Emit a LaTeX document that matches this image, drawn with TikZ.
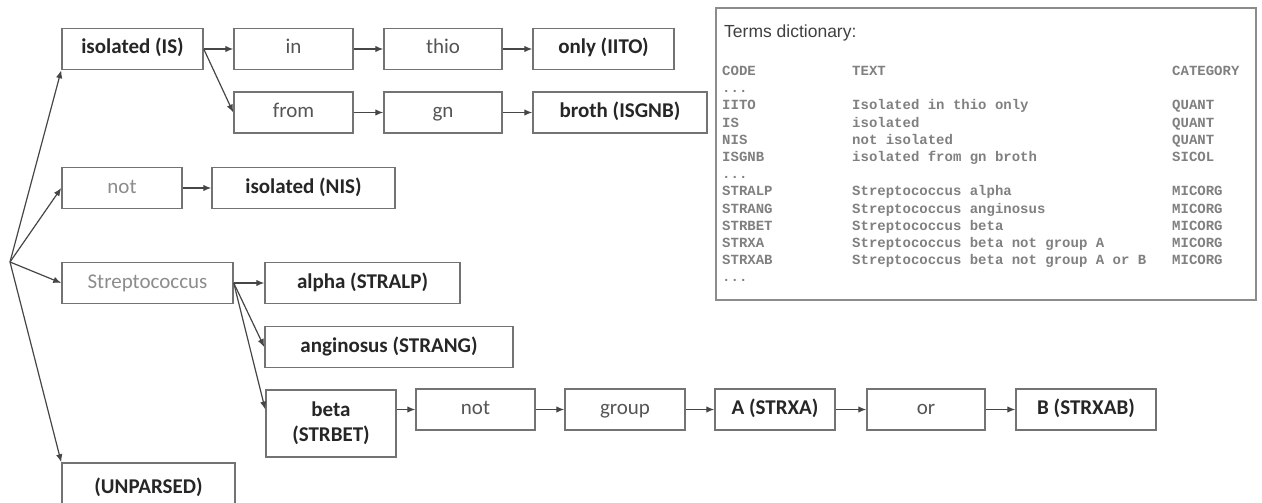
\documentclass[tikz,border=0pt]{standalone}
\usepackage{fontspec}
\setsansfont{Carlito}
\setmonofont{Liberation Mono}
\newfontfamily\titlefont{Liberation Sans}
\usetikzlibrary{positioning,arrows.meta}
\definecolor{boxgray}{RGB}{115,115,115}
\definecolor{linegray}{RGB}{70,70,70}
\definecolor{termgray}{RGB}{85,85,85}
\definecolor{palegray}{RGB}{140,140,140}

\begin{document}
\begin{tikzpicture}[x=1pt,y=-1pt,
	term/.style={
		draw=boxgray, line width=1.5pt, fill=white, text=termgray,
		minimum height=41pt, inner sep=2pt, text height=15pt, text depth=5pt,
		font=\sffamily\fontsize{21}{25}\selectfont
	},
	leaf/.style={term, text=black!85, font=\sffamily\bfseries\fontsize{21}{25}\selectfont},
	link/.style={-{Latex[length=8pt,width=6.5pt]}, draw=linegray, line width=1.2pt},
	dictcol/.style={anchor=north west, inner sep=0pt, align=left, text=black!50,
		font=\ttfamily\bfseries\fontsize{14}{17.2}\selectfont}
	]
	\useasboundingbox (0,0) rectangle (1262,503);
	% điểm gốc bên trái
	\coordinate (root) at (10,262);
	% nhánh isolated
	\node[leaf, minimum width=141pt] (is)    at (132.5,49)  {isolated (IS)};
	\node[term, minimum width=119pt] (in)    at (293.5,49)  {in};
	\node[term, minimum width=118pt] (thio)  at (443,49)    {thio};
	\node[leaf, minimum width=141pt] (iito)  at (603.5,49)  {only (IITO)};
	\node[term, minimum width=119pt] (from)  at (293.5,112.5) {from};
	\node[term, minimum width=118pt] (gn)    at (443,112.5) {gn};
	\node[leaf, minimum width=174pt] (isgnb) at (620,112.5) {broth (ISGNB)};
	% nhánh not
	\node[term, minimum width=120pt, text=palegray] (neg) at (122,188) {not};
	\node[leaf, minimum width=183pt] (nis)   at (303.5,188) {isolated (NIS)};
	% nhánh Streptococcus
	\node[term, minimum width=171pt, text=palegray] (strep) at (147.5,283) {Streptococcus};
	\node[leaf, minimum width=195pt] (stralp) at (362.5,283) {alpha (STRALP)};
	\node[leaf, minimum width=248pt] (strang) at (389,347)   {anginosus (STRANG)};
	\node[leaf, minimum width=130pt, minimum height=67pt, text height=, text depth=, align=center] (strbet) at (331,423.5) {beta\\(STRBET)};
	\node[term, minimum width=119pt] (negb)   at (475.5,409.5) {not};
	\node[term, minimum width=120pt] (grp)    at (625,409.5)   {group};
	\node[leaf, minimum width=120pt] (strxa)  at (775,409.5)   {A (STRXA)};
	\node[term, minimum width=118pt] (orw)    at (926,409.5)   {or};
	\node[leaf, minimum width=140pt] (strxab) at (1086,409.5)  {B (STRXAB)};
	\node[leaf, minimum width=173pt, minimum height=50pt] (unp) at (148.5,488) {(UNPARSED)};
	% các mũi tên
	\draw[link] (root) -- (is.south west);
	\draw[link] (root) -- (neg.west);
	\draw[link] (root) -- (strep.west);
	\draw[link] (root) -- (unp.north west);
	\draw[link] (is.east) -- (in.west);
	\draw[link] (in.east) -- (thio.west);
	\draw[link] (thio.east) -- (iito.west);
	\draw[link] (is.east) -- (from.west);
	\draw[link] (from.east) -- (gn.west);
	\draw[link] (gn.east) -- (isgnb.west);
	\draw[link] (neg.east) -- (nis.west);
	\draw[link] (strep.east) -- (stralp.west);
	\draw[link] (strep.east) -- (strang.west);
	\draw[link] (strep.east) -- (strbet.west |- negb.west);
	\draw[link] (strbet.east |- negb.west) -- (negb.west);
	\draw[link] (negb.east) -- (grp.west);
	\draw[link] (grp.east) -- (strxa.west);
	\draw[link] (strxa.east) -- (orw.west);
	\draw[link] (orw.east) -- (strxab.west);
	% bảng từ điển
	\node[draw=palegray, line width=1.5pt, minimum width=540pt, minimum height=292pt] (dict) at (986,154) {};
	\node[anchor=west, inner sep=0pt, text=black!75, font=\titlefont\fontsize{17.5}{20}\selectfont] (dtitle) at (724,33) {Terms dictionary:};
	\node[dictcol] (dcode) at (722,66) {CODE\\...\\IITO\\IS\\NIS\\ISGNB\\...\\STRALP\\STRANG\\STRBET\\STRXA\\STRXAB\\...};
	\node[dictcol] (dtext) at (852,66) {TEXT\\ \\Isolated in thio only\\isolated\\not isolated\\isolated from gn broth\\ \\Streptococcus alpha\\Streptococcus anginosus\\Streptococcus beta\\Streptococcus beta not group A\\Streptococcus beta not group A or B};
	\node[dictcol] (dcat) at (1172,66) {CATEGORY\\ \\QUANT\\QUANT\\QUANT\\SICOL\\ \\MICORG\\MICORG\\MICORG\\MICORG\\MICORG};
\end{tikzpicture}
\end{document}
